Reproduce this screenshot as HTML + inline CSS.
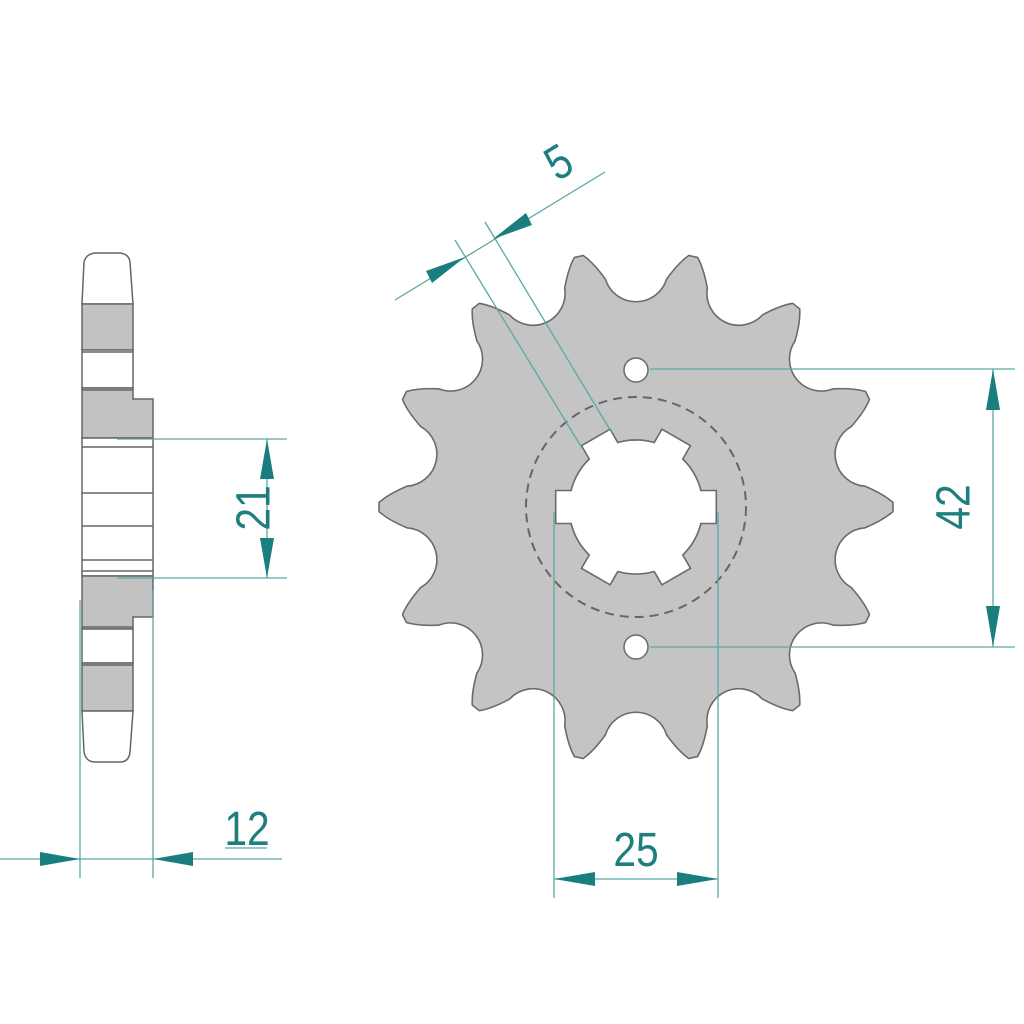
<!DOCTYPE html>
<html><head><meta charset="utf-8"><style>
html,body{margin:0;padding:0;background:#fff;}
svg{display:block;}
text{font-family:"Liberation Sans",sans-serif;fill:#1f7f7f;}
</style></head><body>
<svg id="s" width="1024" height="1024" viewBox="0 0 1024 1024" xmlns="http://www.w3.org/2000/svg">
<!-- side view -->
<g stroke="#666" stroke-width="1.5">
  <path d="M82,304 L84,262 Q86,254 95,253 L120,253 Q129,254 130,262 L133,304 Z" fill="#fff"/>
  <rect x="82" y="304" width="51" height="46" fill="#c2c2c2"/>
  <rect x="82" y="350" width="51" height="38" fill="#fff"/>
  <path d="M82,388 L133,388 L133,399 L153,399 L153,438 L82,438 Z" fill="#c2c2c2"/>
  <rect x="82" y="438" width="71" height="138" fill="#fff"/>
  <path d="M82,576 L153,576 L153,617 L133,617 L133,629 L82,629 Z" fill="#c2c2c2"/>
  <rect x="82" y="629" width="51" height="34" fill="#fff"/>
  <rect x="82" y="663" width="51" height="48" fill="#c2c2c2"/>
  <path d="M82,711 L133,711 L130,752 Q129,762 120,762 L95,762 Q86,762 84,752 Z" fill="#fff"/>
  <line x1="82" y1="447" x2="153" y2="447"/>
  <line x1="82" y1="493" x2="153" y2="493"/>
  <line x1="82" y1="526" x2="153" y2="526"/>
  <line x1="82" y1="560" x2="153" y2="560"/>
  <line x1="82" y1="571" x2="153" y2="571"/>
  <line x1="82" y1="352" x2="133" y2="352"/>
  <line x1="82" y1="390" x2="133" y2="390"/>
  <line x1="82" y1="627" x2="133" y2="627"/>
  <line x1="82" y1="665" x2="133" y2="665"/>
</g>
<!-- sprocket -->
<path id="sp" fill="#c4c4c4" stroke="#6a6a6a" stroke-width="1.6" d=""/>
<circle cx="636" cy="370" r="12" fill="#fff" stroke="#6a6a6a" stroke-width="1.5"/>
<circle cx="636" cy="647" r="12" fill="#fff" stroke="#6a6a6a" stroke-width="1.5"/>
<circle cx="636" cy="507" r="110" fill="none" stroke="#666" stroke-width="2" stroke-dasharray="9,6"/>
<path id="hole" fill="#fff" stroke="#6a6a6a" stroke-width="1.6" d=""/>
<!-- dimension lines -->
<g stroke="#5aa8a8" stroke-width="1.3" fill="none">
  <line x1="117" y1="439" x2="287" y2="439"/>
  <line x1="117" y1="578" x2="287" y2="578"/>
  <line x1="267" y1="439" x2="267" y2="578"/>
  <line x1="80" y1="600" x2="80" y2="878"/>
  <line x1="153" y1="590" x2="153" y2="878"/>
  <line x1="0" y1="859" x2="282" y2="859"/>
  <line x1="225" y1="848" x2="267" y2="848"/>
  <line x1="650" y1="369" x2="1015" y2="369"/>
  <line x1="650" y1="647" x2="1015" y2="647"/>
  <line x1="993" y1="369" x2="993" y2="647"/>
  <line x1="554" y1="512" x2="554" y2="898"/>
  <line x1="718" y1="512" x2="718" y2="898"/>
  <line x1="554" y1="879" x2="718" y2="879"/>
  <line x1="395" y1="300" x2="605" y2="172"/>
  <line x1="455" y1="240" x2="582" y2="448"/>
  <line x1="485" y1="222" x2="612" y2="433"/>
</g>
<g fill="#1a7e7e">
  <polygon points="267,439 260,479 274,479"/>
  <polygon points="267,578 260,538 274,538"/>
  <polygon points="80,859 40,852 40,866"/>
  <polygon points="153,859 193,852 193,866"/>
  <polygon points="993,369 986,410 1000,410"/>
  <polygon points="993,647 986,606 1000,606"/>
  <polygon points="554,879 595,872 595,886"/>
  <polygon points="718,879 677,872 677,886"/>
  <polygon points="465,257 426,271 432,283"/>
  <polygon points="493,239 532,225 526,213"/>
</g>
<text x="0" y="0" font-size="48" text-anchor="middle" transform="translate(257,508) rotate(-90) scale(0.85,1)" dominant-baseline="middle">21</text>
<text x="0" y="0" font-size="48" text-anchor="middle" transform="translate(957,507) rotate(-90) scale(0.85,1)" dominant-baseline="middle">42</text>
<text x="0" y="0" font-size="48" text-anchor="middle" transform="translate(636,866) scale(0.85,1)">25</text>
<text x="0" y="0" font-size="48" text-anchor="middle" transform="translate(247,845) scale(0.85,1)">12</text>
<text x="0" y="0" font-size="48" text-anchor="middle" transform="translate(567,176) rotate(-31) scale(0.85,1)">5</text>
</svg>
<script>
(function(){
var cx=636,cy=507,N=14,d=[],pi=Math.PI;
function P(r,a){a=a*pi/180;return (cx+r*Math.sin(a)).toFixed(1)+","+(cy-r*Math.cos(a)).toFixed(1);}
var step=360/N;
for(var k=0;k<N;k++){
 var t=step/2+k*step;
 d.push((k==0?"M":"L")+P(230,t-5.2));
 d.push("Q"+P(248,t-3)+" "+P(257,t-1));
 d.push("L"+P(257,t+1));
 d.push("Q"+P(248,t+3)+" "+P(230,t+5.2));
 d.push("A32,32 0 0 0 "+P(230,t+step-5.2));
}
document.getElementById("sp").setAttribute("d",d.join(" ")+"Z");
var h=[],ri=67,ro=82,hw=16.5;
for(var k=0;k<6;k++){
 var c=90+k*60;
 var ai=Math.asin(hw/ri)*180/pi, ao=Math.asin(hw/ro)*180/pi;
 h.push((k==0?"M":"L")+P(ri,c-ai));
 h.push("L"+P(ro,c-ao));
 h.push("L"+P(ro,c+ao));
 h.push("L"+P(ri,c+ai));
 h.push("A"+ri+","+ri+" 0 0 1 "+P(ri,c+60-ai));
}
document.getElementById("hole").setAttribute("d",h.join(" ")+"Z");
})();
</script>
</body></html>
